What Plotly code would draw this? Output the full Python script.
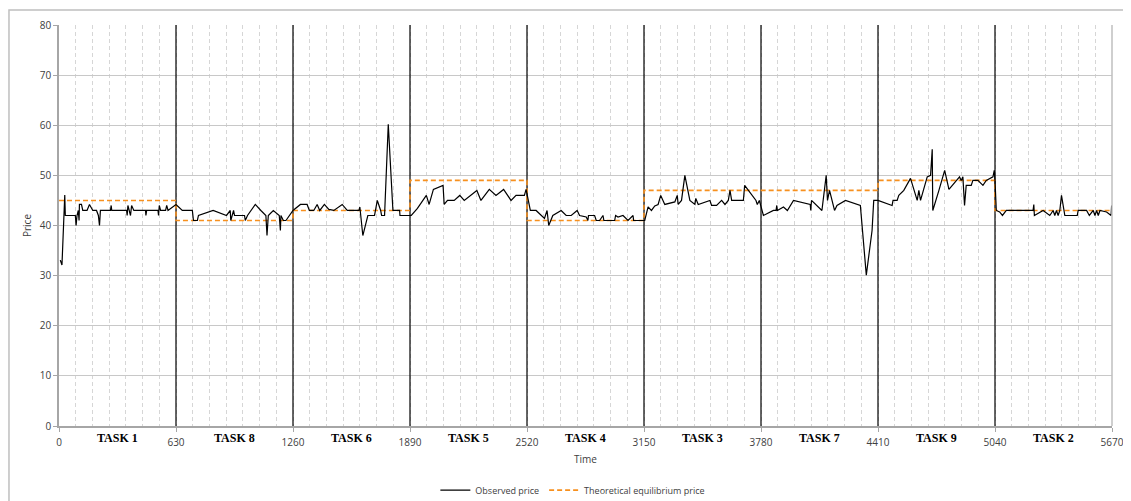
import plotly.graph_objects as go

# ---- data ----
task_names = ["TASK 1", "TASK 8", "TASK 6", "TASK 5", "TASK 4", "TASK 3", "TASK 7", "TASK 9", "TASK 2"]
task_bounds = [0, 630, 1260, 1890, 2520, 3150, 3780, 4410, 5040, 5670]
equilibrium = [45, 41, 43, 49, 41, 47, 47, 49, 43]

obs_time = [
    7, 16, 31, 34, 88, 92, 97, 104, 108, 110, 121, 128, 151, 164, 182, 202, 212, 218, 223, 277,
    281, 284, 364, 367, 371, 378, 385, 391, 403, 466, 468, 472, 533, 536, 540, 547, 574, 580, 587, 630,
    664, 718, 724, 745, 751, 830, 902, 922, 925, 940, 945, 999, 1003, 1015, 1057, 1087, 1114, 1120, 1127, 1154,
    1186, 1192, 1195, 1208, 1222, 1260,
    1300, 1336, 1348, 1372, 1390, 1404, 1429, 1453, 1480, 1525, 1552, 1615, 1620, 1636, 1663, 1699, 1714, 1732,
    1737, 1753, 1773, 1798, 1834, 1836, 1885,
    1897, 1930, 1957, 1978, 1993, 2011, 2016, 2068, 2074, 2092, 2128, 2158, 2182, 2250, 2272, 2317, 2353, 2394,
    2434, 2461, 2506, 2515,
    2538, 2569, 2614, 2628, 2637, 2659, 2704, 2731, 2758, 2790, 2803, 2839, 2848, 2851, 2884, 2893, 2911, 2929,
    2934, 2992, 2997, 3010, 3037, 3064, 3091, 3094, 3154,
    3172, 3190, 3208, 3226, 3240, 3262, 3316, 3329, 3334, 3352, 3370, 3397, 3424, 3429, 3442, 3505, 3514, 3541,
    3568, 3586, 3604, 3613, 3622, 3685, 3692, 3753, 3760, 3771, 3793,
    3847, 3861, 3865, 3868, 3901, 3922, 3955, 4045, 4048, 4052, 4108, 4131, 4138, 4149, 4176, 4189, 4235, 4315,
    4347, 4378, 4387, 4410,
    4486, 4491, 4513, 4522, 4549, 4585, 4603, 4621, 4630, 4639, 4675, 4693, 4702, 4705, 4738, 4769, 4792, 4849,
    4858, 4867, 4876, 4885, 4912, 4921, 4948, 4975, 4993, 5029, 5036, 5040, 5047,
    5065, 5080, 5101, 5245, 5249, 5252, 5299, 5335, 5353, 5362, 5371, 5380, 5389, 5398, 5416, 5483, 5488, 5533,
    5548, 5569, 5578, 5587, 5596, 5605, 5641, 5665, 5668,
]
obs_price = [
    33.1, 32.1, 46.1, 42, 42, 40, 42, 43, 41, 44.2, 44.2, 43, 43, 44.2, 43, 43, 42, 40, 43, 43,
    44, 43, 43, 42, 44, 43, 42, 44, 43, 43, 42, 43, 43, 42, 44, 43, 43, 44, 43, 44.2,
    43, 43, 41, 41, 42, 43, 42, 43, 41, 43, 42, 42, 41, 42, 44.2, 43, 42, 38, 42, 43,
    42, 39, 42, 41, 41, 43,
    44.2, 44.2, 43, 43, 44.2, 43, 44.2, 43.2, 43, 44.2, 43, 43, 43.7, 38, 42, 42, 45, 43,
    42, 42, 60.2, 43, 43, 42, 42,
    42, 43.4, 45, 46, 44.2, 46.4, 47.2, 48, 44.2, 45, 45, 46, 45, 47, 45, 47.2, 46, 47.2,
    45, 46, 46, 47.2,
    43, 43, 41.4, 43, 40, 42, 43, 42, 42, 43, 42, 41.7, 41, 42, 42, 41, 41, 42,
    41, 41, 42, 41.7, 42, 41, 42, 41, 41,
    43.7, 43, 43.9, 44.2, 46, 44.2, 44.7, 46, 44.2, 45, 50, 45, 44.2, 45.4, 44.2, 45, 44, 44,
    45, 44.2, 45, 47, 45, 45, 48, 45, 44.2, 45, 42,
    43, 43, 44, 43, 43.7, 43, 45, 44.2, 43, 45, 43, 50, 45, 47, 43, 44, 45, 44,
    30.1, 39, 45, 45,
    44, 45, 45, 46, 47, 49.4, 47, 45, 47, 45, 49.7, 50, 55.2, 43, 47, 51, 47.2, 49.7,
    49, 49.7, 44, 48, 48, 49, 49, 48, 49, 49.7, 51, 49, 43,
    42.7, 42, 43, 43, 44.2, 42, 43, 42, 43, 42, 43, 42, 43, 46, 42, 42, 43, 43,
    42, 43, 42, 43, 42, 43, 42.7, 42, 44,
]

x_ticks = task_bounds
y_ticks = [0, 10, 20, 30, 40, 50, 60, 70, 80]

# ---- figure ----
fig = go.Figure()

fig.add_trace(go.Scatter(
    x=task_bounds, y=equilibrium + [equilibrium[-1]],
    mode="lines", line_shape="hv",
    line=dict(color="#F7901E", width=1.6, dash="5px,3px"),
    name="Theoretical equilibrium price", legendrank=2,
))
fig.add_trace(go.Scatter(
    x=obs_time, y=obs_price, mode="lines",
    line=dict(color="black", width=1.2),
    name="Observed price", legendrank=1,
))

# solid task separators
for b in task_bounds[1:-1]:
    fig.add_shape(type="line", xref="x", yref="y", x0=b, x1=b, y0=0, y1=80,
                  line=dict(color="black", width=1.2), layer="between")

# task labels
for i, name in enumerate(task_names):
    mid = (task_bounds[i] + task_bounds[i + 1]) / 2
    fig.add_annotation(x=mid, y=-0.03, xref="x", yref="paper", text=f"<b>{name}</b>",
                       showarrow=False, yanchor="middle",
                       font=dict(family="Liberation Serif", size=12, color="black"))

# outer chart border
fig.add_shape(type="rect", xref="paper", yref="paper", x0=-0.0475, x1=1.05, y0=-0.3, y1=1.0374,
              line=dict(color="#BFBFBF", width=1.5), fillcolor="rgba(0,0,0,0)", layer="below")

fig.update_layout(
    width=1123, height=493,
    margin=dict(l=51, r=19, t=17, b=75, autoexpand=False),
    plot_bgcolor="white", paper_bgcolor="white",
    font=dict(family="Open Sans", size=10, color="#404040"),
    showlegend=True,
    legend=dict(orientation="h", x=0.488, xanchor="center", y=-0.16, yanchor="middle",
                font=dict(size=9, color="#404040"), traceorder="normal", itemwidth=30),
)
fig.update_xaxes(
    range=[0, 5670], tickvals=x_ticks, ticktext=[str(v) for v in x_ticks],
    showgrid=False, automargin=False,
    minor=dict(dtick=90, tick0=0, showgrid=True, gridcolor="#D6D6D6", griddash="4px,3px", gridwidth=1),
    showline=True, linecolor="#A6A6A6", linewidth=1.5, mirror=False,
    ticks="outside", ticklen=4, tickcolor="#A6A6A6", ticklabelstandoff=2,
    tickfont=dict(size=10, color="#404040"),
    title=dict(text="Time", font=dict(size=10, color="#404040"), standoff=8),
    zeroline=False,
)
fig.update_yaxes(
    range=[0, 80], tickvals=y_ticks, automargin=False,
    showgrid=True, gridcolor="#C8C8C8", gridwidth=1,
    showline=True, linecolor="#A6A6A6", linewidth=1.5,
    ticks="outside", ticklen=4, tickcolor="#A6A6A6",
    tickfont=dict(size=10, color="#404040"),
    title=dict(text="Price", font=dict(size=10, color="#404040"), standoff=6),
    zeroline=False,
)
# right border of plot area
fig.add_shape(type="line", xref="paper", yref="paper", x0=1, x1=1, y0=0, y1=1,
              line=dict(color="#BFBFBF", width=1.5))

fig.write_html("out.html")
